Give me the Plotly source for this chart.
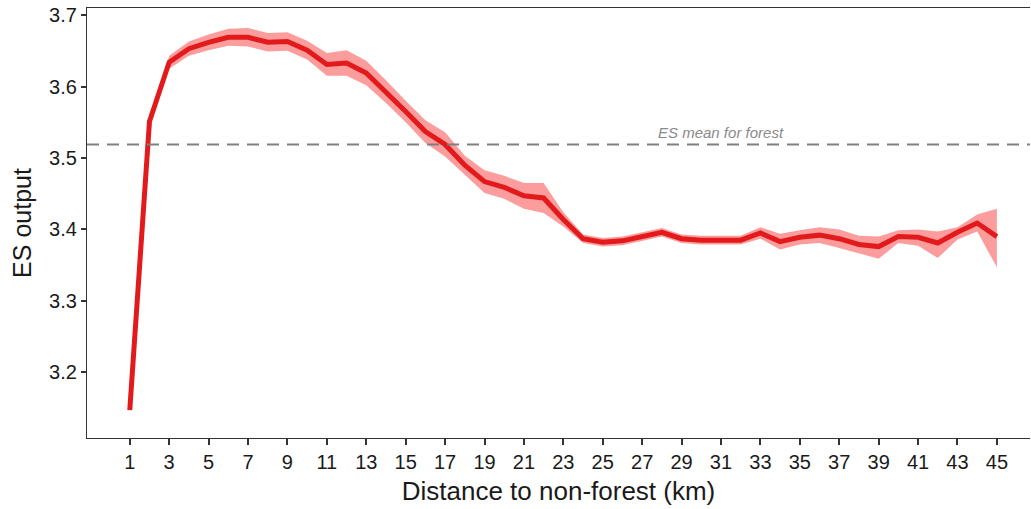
import plotly.graph_objects as go

distance_km = list(range(1, 46))
es_mean = [3.147, 3.551, 3.634, 3.653, 3.662, 3.669, 3.669, 3.662, 3.663, 3.651,
           3.631, 3.633, 3.619, 3.593, 3.565, 3.537, 3.519, 3.490, 3.467, 3.459,
           3.447, 3.444, 3.414, 3.387, 3.382, 3.384, 3.390, 3.396, 3.387, 3.385,
           3.385, 3.385, 3.395, 3.383, 3.389, 3.392, 3.387, 3.379, 3.376, 3.390,
           3.389, 3.381, 3.396, 3.409, 3.390]
es_upper = [3.150, 3.555, 3.643, 3.663, 3.673, 3.681, 3.682, 3.675, 3.676, 3.664,
            3.647, 3.651, 3.636, 3.609, 3.580, 3.553, 3.536, 3.503, 3.483, 3.475,
            3.465, 3.465, 3.424, 3.393, 3.388, 3.390, 3.396, 3.402, 3.393, 3.391,
            3.391, 3.391, 3.403, 3.394, 3.399, 3.403, 3.400, 3.391, 3.390, 3.399,
            3.400, 3.397, 3.403, 3.421, 3.429]
es_lower = [3.144, 3.547, 3.625, 3.643, 3.651, 3.657, 3.656, 3.649, 3.650, 3.638,
            3.615, 3.615, 3.602, 3.577, 3.550, 3.521, 3.502, 3.477, 3.451, 3.443,
            3.429, 3.423, 3.404, 3.381, 3.376, 3.378, 3.384, 3.390, 3.381, 3.379,
            3.379, 3.379, 3.387, 3.372, 3.379, 3.381, 3.374, 3.367, 3.359, 3.381,
            3.377, 3.360, 3.386, 3.397, 3.347]
forest_mean = 3.519
x_ticks = list(range(1, 46, 2))
y_ticks = [3.2, 3.3, 3.4, 3.5, 3.6, 3.7]

fig = go.Figure()
fig.add_trace(go.Scatter(x=distance_km, y=es_lower, mode="lines",
                         line=dict(width=0, color="rgba(0,0,0,0)"),
                         showlegend=False, hoverinfo="skip"))
fig.add_trace(go.Scatter(x=distance_km, y=es_upper, mode="lines",
                         line=dict(width=0, color="rgba(0,0,0,0)"),
                         fill="tonexty", fillcolor="#fc9d9d",
                         showlegend=False, hoverinfo="skip"))
fig.add_trace(go.Scatter(x=distance_km, y=es_mean, mode="lines",
                         line=dict(width=5, color="#e31a1c"),
                         showlegend=False))

fig.add_shape(type="line", xref="paper", x0=0, x1=1, yref="y",
              y0=forest_mean, y1=forest_mean,
              line=dict(color="#7f7f7f", width=2, dash="12px,8px"), layer="above")
fig.add_annotation(x=31, y=forest_mean, xref="x", yref="y",
                   text="<i>ES mean for forest</i>", showarrow=False,
                   yshift=12, font=dict(size=15, color="#8a8a8a",
                                        family="Liberation Sans"))

axis_font = dict(family="Liberation Sans", size=20, color="#1a1a1a")
fig.update_layout(
    width=1031, height=509,
    margin=dict(l=87, r=1, t=8, b=71),
    plot_bgcolor="white", paper_bgcolor="white",
    font=dict(family="Liberation Sans"),
    xaxis=dict(range=[-1.17, 46.68], tickvals=x_ticks,
               ticktext=[str(v) for v in x_ticks],
               showgrid=False, zeroline=False,
               showline=True, linecolor="#333333", linewidth=1.3, mirror=True,
               ticks="outside", ticklen=6, tickwidth=1.5, tickcolor="#333333",
               tickfont=axis_font,
               title=dict(text="Distance to non-forest (km)",
                          font=dict(size=26, color="#1a1a1a"), standoff=9)),
    yaxis=dict(range=[3.108, 3.710], tickvals=y_ticks,
               ticktext=[f"{v:.1f}" for v in y_ticks],
               showgrid=False, zeroline=False,
               showline=True, linecolor="#333333", linewidth=1.3,
               ticks="outside", ticklen=5, tickwidth=1.5, tickcolor="#333333",
               tickfont=axis_font,
               title=dict(text="ES output",
                          font=dict(size=25, color="#1a1a1a"), standoff=10)),
)

fig.write_html("out.html")
